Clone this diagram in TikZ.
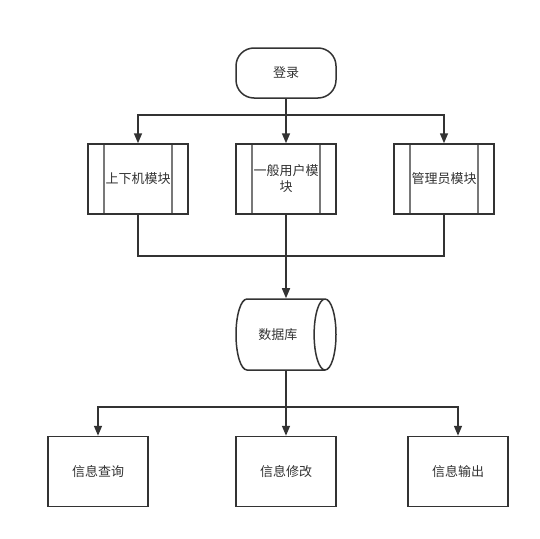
\documentclass[tikz,border=0pt]{standalone}
\usepackage{fontspec}
\newfontfamily\cjk{Noto Sans CJK SC}
\usetikzlibrary{positioning,arrows.meta,shapes.geometric}
\usepackage{xcolor}
\definecolor{flowline}{RGB}{51,51,51}
\definecolor{flowtext}{RGB}{51,51,51}
\definecolor{flowinner}{RGB}{120,120,120}
\tikzset{
  termbox/.style={draw=flowline, line width=1.5pt, rounded corners=18pt, fill=white, align=center, minimum height=50pt, minimum width=100pt, font=\cjk\fontsize{13}{16}\selectfont, text=flowtext},
  procbox/.style={draw=flowline, line width=1.5pt, fill=white, align=center, minimum height=70pt, minimum width=100pt, inner sep=1pt, font=\cjk\fontsize{13}{16}\selectfont, text=flowtext,
    path picture={\draw[flowinner, line width=1.5pt] ([xshift=16pt]path picture bounding box.north west) -- ([xshift=16pt]path picture bounding box.south west);
      \draw[flowinner, line width=1.5pt] ([xshift=-16pt]path picture bounding box.north east) -- ([xshift=-16pt]path picture bounding box.south east);}},
  databox/.style={cylinder, draw=flowline, line width=1.5pt, fill=white, shape aspect=1.17, minimum height=100pt, minimum width=71pt, shape border rotate=0, font=\cjk\fontsize{13}{16}\selectfont, text=flowtext},
  plainbox/.style={draw=flowline, line width=1.5pt, fill=white, align=center, minimum height=70pt, minimum width=100pt, font=\cjk\fontsize{13}{16}\selectfont, text=flowtext},
  line/.style={draw=flowline, line width=1.5pt},
  arrow/.style={-{Triangle[length=10pt,width=8pt]}, draw=flowline, line width=1.5pt}
}
\begin{document}
\begin{tikzpicture}[x=1pt, y=-1pt]
\useasboundingbox[fill=white] (0,0) rectangle (540,538);
\node[termbox] (login) at (286,73) {登录};
\node[procbox] (onoff) at (138,179) {上下机模块};
\node[procbox] (user) at (286,179) {一般用户模\\块};
\node[procbox] (admin) at (444,179) {管理员模块};
\node[databox, anchor=shape center] (db) at (286,334.5) {数据库};
\node[plainbox] (query) at (98,471.5) {信息查询};
\node[plainbox] (modify) at (286,471.5) {信息修改};
\node[plainbox] (output) at (458,471.5) {信息输出};
\coordinate (split) at (286,115);
\coordinate (join) at (286,256);
\coordinate (fork) at (286,407);
\draw[line] (login) -- (split);
\draw[arrow] (split) -| (onoff);
\draw[arrow] (split) -- (user);
\draw[arrow] (split) -| (admin);
\draw[line] (onoff) |- (join);
\draw[line] (admin) |- (join);
\draw[line] (user) -- (join);
\draw[arrow] (join) -- (join |- db.north);
\draw[line] (fork |- db.south) -- (fork);
\foreach \b in {query,output}{\draw[arrow] (fork) -| (\b);}
\draw[arrow] (fork) -- (modify);
\end{tikzpicture}
\end{document}
